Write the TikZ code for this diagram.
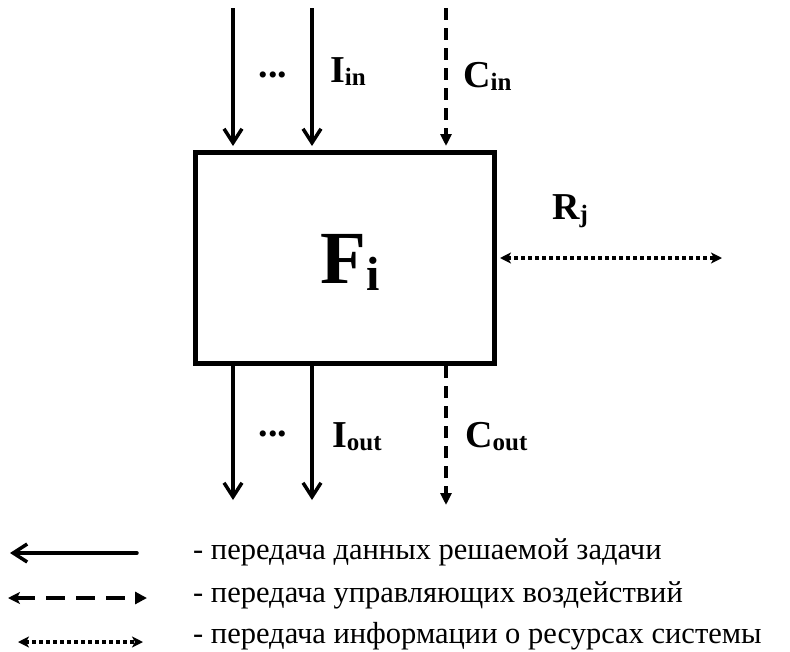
\documentclass[tikz,border=0pt]{standalone}
\usepackage{fontspec}
\setmainfont{Liberation Serif}
\usetikzlibrary{arrows.meta}
\newcommand\mylab[2]{{\fontsize{38}{40}\selectfont\bfseries #1}\raisebox{-3pt}{\fontsize{25}{26}\selectfont\bfseries #2}}
\begin{document}
\begin{tikzpicture}[x=1pt,y=-1pt,
  solidarr/.style={line width=3.5pt,-{Straight Barb[length=14pt,width=18pt,line width=3.5pt]}},
  dasharr/.style={line width=3.5pt,dash pattern=on 12pt off 8pt,-{Triangle[length=12pt,width=11pt]}},
  dotarr/.style={line width=4pt,dash pattern=on 4pt off 3pt,{Stealth[length=11pt,width=11pt,inset=3pt]}-{Stealth[length=11pt,width=11pt,inset=3pt]}},
  lab/.style={anchor=base west,inner sep=0pt},
  legtext/.style={anchor=base west,inner sep=0pt,font=\fontsize{30.5}{32}\selectfont},
  dots/.style={anchor=base,inner sep=0pt,font=\fontsize{38}{38}\selectfont\bfseries}]
\useasboundingbox (0,0) rectangle (790,651);
\node[draw,line width=5pt,minimum width=299pt,minimum height=211pt,inner sep=0pt] (F) at (345,258) {};
\node[lab] (Fl) at (320,283) {{\fontsize{75}{78}\selectfont\bfseries F}\raisebox{-7pt}{\fontsize{48}{50}\selectfont\bfseries i}};
% top arrows
\coordinate (t1) at (233,8);
\coordinate (t2) at (312,8);
\coordinate (t3) at (446,8);
\draw[solidarr,shorten >=4pt] (t1) -- (t1 |- F.north);
\draw[solidarr,shorten >=4pt] (t2) -- (t2 |- F.north);
\draw[dasharr,shorten >=4pt] (t3) -- (t3 |- F.north);
% bottom arrows
\coordinate (b1) at (233,500);
\coordinate (b2) at (312,500);
\coordinate (b3) at (446,505);
\draw[solidarr] (b1 |- F.south) -- (b1);
\draw[solidarr] (b2 |- F.south) -- (b2);
\draw[dasharr] (b3 |- F.south) -- (b3);
% resources arrow
\coordinate (r) at (722,258);
\draw[dotarr,shorten <=3pt] (F.east) -- (r);
% labels
\node[dots] (d1) at (273,77) {...};
\node[dots] (d2) at (273,436) {...};
\node[lab] (Iin) at (330,82) {\mylab{I}{in}};
\node[lab] (Cin) at (463,87) {\mylab{C}{in}};
\node[lab] (Iout) at (332,447) {\mylab{I}{out}};
\node[lab] (Cout) at (465,447) {\mylab{C}{out}};
\node[lab] (Rj) at (552,219) {\mylab{R}{j}};
% legend
\coordinate (l1a) at (10,553); \coordinate (l1b) at (137,553);
\coordinate (l2a) at (8,598); \coordinate (l2b) at (147,598);
\coordinate (l3a) at (18,642); \coordinate (l3b) at (143,642);
\draw[solidarr,line cap=round] (l1b) -- (l1a);
\draw[line width=4.5pt,dash pattern=on 19pt off 11pt,{Stealth[length=12pt,width=12pt,inset=3pt]}-{Triangle[length=12pt,width=12pt]}] (l2a) -- (l2b);
\draw[dotarr] (l3a) -- (l3b);
\node[legtext] (t1x) at (193,559) {- передача данных решаемой задачи};
\node[legtext] (t2x) at (193,602) {- передача управляющих воздействий};
\node[legtext] (t3x) at (193,643) {- передача информации о ресурсах системы};
\end{tikzpicture}
\end{document}
